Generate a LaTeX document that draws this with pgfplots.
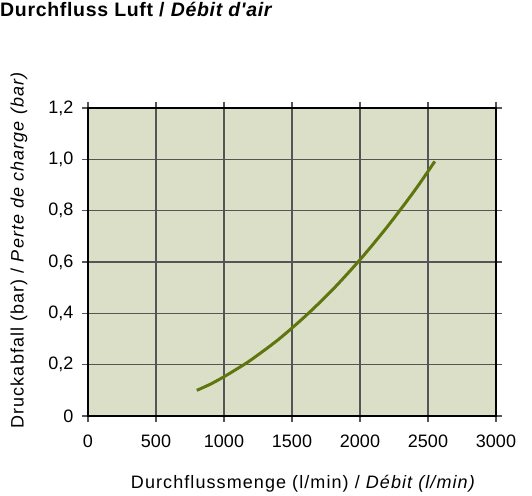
\documentclass[border=0pt]{standalone}
\usepackage{fontspec}
\setmainfont{Liberation Sans}
\newfontfamily\labelfont[LetterSpace=6]{Liberation Sans}
\newfontfamily\titlefont[LetterSpace=3.5]{Liberation Sans}
\usepackage{pgfplots}
\pgfplotsset{compat=1.18}
\definecolor{bgc}{RGB}{219,223,199}
\definecolor{curve}{RGB}{95,118,14}
\definecolor{gridc}{RGB}{85,85,85}
\begin{document}
\begin{tikzpicture}
\path[use as bounding box] (0pt,0pt) rectangle (532pt,495pt);
\node[anchor=base west,inner sep=0pt,font=\titlefont\fontsize{19.5}{21}\selectfont\bfseries] at (0pt,478pt) {Durchfluss Luft / \textit{Débit d'air}};
\begin{axis}[
  at={(88pt,79pt)}, anchor=south west,
  scale only axis, width=408pt, height=308pt,
  xmin=0, xmax=3000, ymin=0, ymax=1.2,
  xtick={0,500,...,3000},
  ytick={0,0.2,0.4,0.6,0.8,1.0,1.2},
  yticklabels={0,{0,2},{0,4},{0,6},{0,8},{1,0},{1,2}},
  xticklabels={0,500,1000,1500,2000,2500,3000},
  axis background/.style={fill=bgc},
  axis line style={black, line width=2.2pt},
  grid=major,
  major grid style={gridc, line width=1.2pt},
  tick style={gridc, line width=1.2pt},
  tick align=outside,
  major tick length=6pt,
  x tick label style={font=\fontsize{18}{20}\selectfont, yshift=-9pt},
  y tick label style={font=\fontsize{18}{20}\selectfont, xshift=-5pt},
  xlabel={Durchflussmenge (l/min) / \textit{Débit (l/min)}},
  ylabel={Druckabfall (bar) / \textit{Perte de charge (bar)}},
  xlabel style={font=\labelfont\fontsize{18}{20}\selectfont, at={(axis description cs:0.528,-0.221)}, anchor=center},
  ylabel style={font=\labelfont\fontsize{18}{20}\selectfont, at={(axis description cs:-0.169,0.539)}, anchor=center},
  /pgf/number format/assume math mode=true,
]
\addplot[curve, line width=3pt, smooth] coordinates {
(800,0.100) (900,0.124) (1000,0.153) (1100,0.185) (1200,0.219) (1400,0.298)
(1600,0.390) (1800,0.493) (2000,0.609) (2200,0.737) (2400,0.877) (2550,0.992)
};
\end{axis}
\end{tikzpicture}
\end{document}
